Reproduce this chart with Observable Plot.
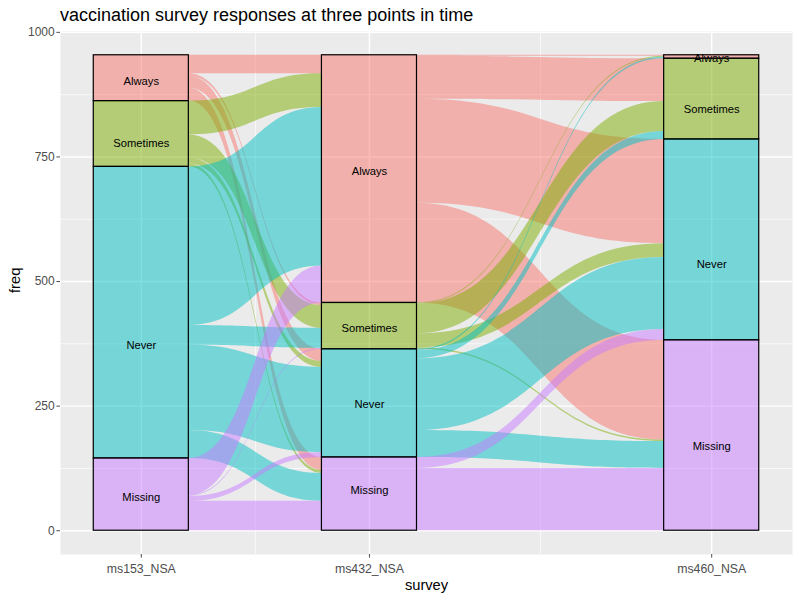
<!DOCTYPE html>
<html><head><meta charset="utf-8">
<script src="https://cdn.jsdelivr.net/npm/d3@7"></script>
<script src="https://cdn.jsdelivr.net/npm/@observablehq/plot@0.6"></script>
<style>
body{margin:0;background:#fff;font-family:"Liberation Sans",Arial,sans-serif;}
#title{height:25px;padding-left:60px;font-size:18px;line-height:31px;color:#000;white-space:nowrap;}
#chart svg{overflow:visible;display:block;}
</style></head><body>
<div id="title">vaccination survey responses at three points in time</div>
<div id="chart"></div>
<script>
// ---- data ----
const surveys = ["ms153_NSA", "ms432_NSA", "ms460_NSA"];
const surveyPos = [1, 1.8, 3];
const responses = ["Always", "Sometimes", "Never", "Missing"];
const responseColors = ["#F8766D", "#7CAE00", "#00BFC4", "#C77CFF"];
// rows: response at earlier survey, columns: response at later survey (order as responses)
const flows153to432 = [
  [37, 5, 24, 26],
  [68, 46, 12, 6],
  [318, 40, 171, 56],
  [74, 2, 10, 59]
];
const flows432to460 = [
  [2, 86, 209, 200],
  [2, 60, 28, 3],
  [3, 16, 144, 54],
  [0, 0, 22, 125]
];
// freq value at which each stratum label sits (order as responses)
const labelFreq153 = [902, 778, 372, 67];
const labelFreq432 = [721, 406, 254, 80];
const labelFreq460 = [948, 846, 535, 170];
const yTicks = [0, 250, 500, 750, 1000];

// ---- derived ----
const gaps = [flows153to432, flows432to460];
const labelFreq = [labelFreq153, labelFreq432, labelFreq460];
const stratumWidth = 1 / 3;
const rowSums = m => m.map(r => d3.sum(r));
const colSums = m => responses.map((_, j) => d3.sum(m, r => r[j]));
const axisTotals = [rowSums(gaps[0]), colSums(gaps[0]), colSums(gaps[1])];

function stack(totals) {
  let y = 0; const out = [];
  for (let i = responses.length - 1; i >= 0; --i) { out[i] = {y1: y, y2: y + totals[i]}; y += totals[i]; }
  return out;
}
const stacks = axisTotals.map(stack);

const strata = [];
stacks.forEach((st, a) => st.forEach((s, i) => {
  if (s.y2 - s.y1 > 0) strata.push({
    survey: surveys[a], response: responses[i],
    x1: surveyPos[a] - stratumWidth / 2, x2: surveyPos[a] + stratumWidth / 2,
    xm: surveyPos[a], y1: s.y1, y2: s.y2, ym: labelFreq[a][i]
  });
}));

const flowPts = [];
gaps.forEach((m, g) => {
  const L = stacks[g], R = stacks[g + 1];
  const left = {}, right = {};
  responses.forEach((_, i) => {
    let c = L[i].y2;
    responses.forEach((_, j) => { const n = m[i][j]; left[i + "-" + j] = [c - n, c]; c -= n; });
  });
  responses.forEach((_, j) => {
    let c = R[j].y2;
    responses.forEach((_, i) => { const n = m[i][j]; right[i + "-" + j] = [c - n, c]; c -= n; });
  });
  responses.forEach((_, i) => responses.forEach((_, j) => {
    if (m[i][j] <= 0) return;
    const id = g + "-" + i + "-" + j;
    const a = left[i + "-" + j], b = right[i + "-" + j];
    flowPts.push({id, from: responses[i], x: surveyPos[g] + stratumWidth / 2, y1: a[0], y2: a[1]});
    flowPts.push({id, from: responses[i], x: surveyPos[g + 1] - stratumWidth / 2, y1: b[0], y2: b[1]});
  }));
});

const T = d3.sum(axisTotals[0]);
const lo = surveyPos[0] - stratumWidth / 2, hi = surveyPos[surveyPos.length - 1] + stratumWidth / 2;
const pad = 0.05 * (hi - lo);
const yMinor = d3.pairs(yTicks).map(([a, b]) => (a + b) / 2);
const xMinor = d3.pairs(surveyPos).map(([a, b]) => (a + b) / 2);

const chart = Plot.plot({
  width: 800, height: 575,
  marginTop: 6, marginBottom: 46, marginLeft: 60, marginRight: 8,
  style: {fontFamily: "Liberation Sans, Arial, sans-serif", fontSize: "12px", background: "white", overflow: "visible"},
  x: {domain: [lo - pad, hi + pad]},
  y: {domain: [-0.05 * T, 1.05 * T]},
  color: {domain: responses, range: responseColors},
  marks: [
    Plot.frame({fill: "#EBEBEB", stroke: "none"}),
    Plot.ruleY(yMinor, {stroke: "white", strokeWidth: 0.7}),
    Plot.ruleX(xMinor, {stroke: "white", strokeWidth: 0.7}),
    Plot.ruleY(yTicks, {stroke: "white", strokeWidth: 1.4}),
    Plot.ruleX(surveyPos, {stroke: "white", strokeWidth: 1.4}),
    Plot.areaY(flowPts, {x: "x", y1: "y1", y2: "y2", z: "id", fill: "from", fillOpacity: 0.5, curve: "bump-x"}),
    Plot.rect(strata, {x1: "x1", x2: "x2", y1: "y1", y2: "y2", fill: "response", fillOpacity: 0.5, stroke: "black", strokeWidth: 1.2}),
    Plot.text(strata, {x: "xm", y: "ym", text: "response", fill: "black", fontSize: 11.2}),
    Plot.axisY({ticks: yTicks, tickFormat: d => String(d), tickSize: 3.6, tickPadding: 2.2, color: "#4D4D4D", label: null, fontSize: 12}),
    Plot.axisX({ticks: surveyPos, tickFormat: d => surveys[surveyPos.indexOf(d)], tickSize: 3.6, tickPadding: 6, color: "#4D4D4D", label: null, fontSize: 12.3}),
    Plot.text(["freq"], {text: d => d, frameAnchor: "left", dx: -45, rotate: -90, fontSize: 14.7, fill: "black"}),
    Plot.text(["survey"], {text: d => d, frameAnchor: "bottom", dy: 35, fontSize: 14.7, fill: "black"})
  ]
});
document.getElementById("chart").appendChild(chart);
</script>
</body></html>
